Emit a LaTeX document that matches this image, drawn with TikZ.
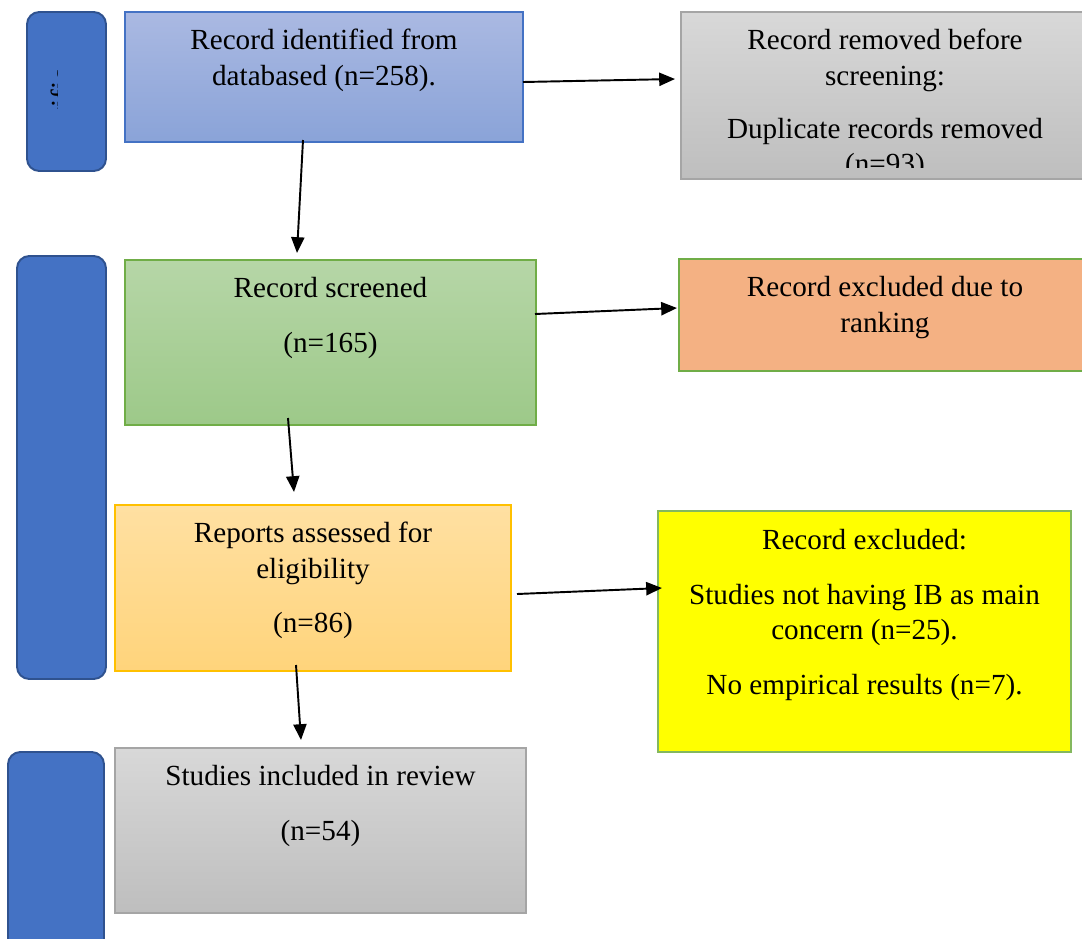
\documentclass[tikz,border=0pt]{standalone}
\usepackage{fontspec}
\setmainfont{Liberation Serif}
\usetikzlibrary{arrows.meta,calc}

\definecolor{sidefill}{HTML}{4472C4}
\definecolor{sideline}{HTML}{2F528F}
\definecolor{idtop}{HTML}{AAB9E2}
\definecolor{idbot}{HTML}{8AA3D8}
\definecolor{greytop}{HTML}{D8D8D8}
\definecolor{greybot}{HTML}{BEBEBE}
\definecolor{greyline}{HTML}{A5A5A5}
\definecolor{greentop}{HTML}{B6D6A7}
\definecolor{greenbot}{HTML}{9DC989}
\definecolor{greenline}{HTML}{70AD47}
\definecolor{rankfill}{HTML}{F4B183}
\definecolor{reptop}{HTML}{FFE0A2}
\definecolor{repbot}{HTML}{FFD47B}
\definecolor{repline}{HTML}{FFC000}
\definecolor{exclfill}{HTML}{FFFF00}
\definecolor{exclline}{HTML}{84B85E}

\begin{document}
\begin{tikzpicture}[x=0.02cm, y=-0.02cm, >={Triangle[length=9pt,width=7.5pt]},
    box/.style={draw, line width=0.6pt, inner sep=0pt, outer sep=0pt},
    boxsize/.style 2 args={minimum width=#1*0.02cm, minimum height=#2*0.02cm},
    side/.style={box, rounded corners=7pt, fill=sidefill, draw=sideline, line width=1.1pt},
    txt/.style={anchor=north, align=center, inner sep=0pt, font=\fontsize{16.6}{20}\selectfont},
    flow/.style={->, line width=1.1pt}]
  \useasboundingbox (0,0) rectangle (1082,938);
  \clip (0,0) rectangle (1082,938);
  % stage bars on the left
  \node[side, boxsize={79}{159}] (side1) at (66.5,91.5) {};
  \node[side, boxsize={89}{423}] (side2) at (61.5,467.5) {};
  \node[side, boxsize={96}{208}] (side3) at (56,856) {};
  \begin{scope}
    \clip (50,70) rectangle (57,108);
    \node[txt, anchor=center, rotate=90] (sidetext) at (61,89) {Identification};
  \end{scope}
  % main column
  \node[box, boxsize={398}{130}, draw=sidefill, top color=idtop, bottom color=idbot] (ident) at (324,77) {};
  \node[txt] (identtext) at ($(ident.north)+(0,13)$) {\strut Record identified from\\databased (n=258).};
  \node[box, boxsize={411}{165}, draw=greenline, top color=greentop, bottom color=greenbot] (screen) at (330.5,342.5) {};
  \node[txt] (screentext) at ($(screen.north)+(0,13)$) {\strut Record screened\\[11pt](n=165)};
  \node[box, boxsize={396}{166}, draw=repline, top color=reptop, bottom color=repbot] (assess) at (313,588) {};
  \node[txt] (assesstext) at ($(assess.north)+(0,13)$) {\strut Reports assessed for\\eligibility\\[11pt](n=86)};
  \node[box, boxsize={411}{165}, draw=greyline, top color=greytop, bottom color=greybot] (incl) at (320.5,830.5) {};
  \node[txt] (incltext) at ($(incl.north)+(0,13)$) {\strut Studies included in review\\[11pt](n=54)};
  % boxes on the right
  \node[box, boxsize={408}{167}, draw=greyline, top color=greytop, bottom color=greybot] (removed) at (885,95.5) {};
  \begin{scope}
    \clip (removed.north west) rectangle ($(removed.south east)+(0,-12)$);
    \node[txt] (removedtext) at ($(removed.north)+(0,13)$)
      {\strut Record removed before\\screening:\\[10.5pt]Duplicate records removed\\(n=93)};
  \end{scope}
  \node[box, boxsize={412}{112}, draw=greenline, fill=rankfill] (rank) at (885,315) {};
  \node[txt] (ranktext) at ($(rank.north)+(0,13)$) {\strut Record excluded due to\\ranking};
  \node[box, boxsize={413}{241}, draw=exclline, line width=1pt, fill=exclfill] (excl) at (864.5,631.5) {};
  \node[txt] (excltext) at ($(excl.north)+(0,14)$)
    {\strut Record excluded:\\[11pt]Studies not having IB as main\\concern (n=25).\\[11pt]No empirical results (n=7).};
  % arrows
  \draw[flow] ($(ident.east)+(0,5)$) -- ($(removed.west)+(-6,-16.5)$);
  \draw[flow] ($(ident.south)+(-21,-2)$) -- ($(screen.north)+(-33.5,-7)$);
  \draw[flow] ($(screen.east)+(-1,-28.5)$) -- ($(rank.west)+(-2,-7)$);
  \draw[flow] ($(screen.south)+(-42.5,-7)$) -- ($(assess.north)+(-19,-13)$);
  \draw[flow] ($(assess.east)+(6,6)$) -- ($(excl.west)+(4,-43.5)$);
  \draw[flow] ($(assess.south)+(-17,-6)$) -- ($(incl.north)+(-19.5,-8)$);
\end{tikzpicture}
\end{document}
